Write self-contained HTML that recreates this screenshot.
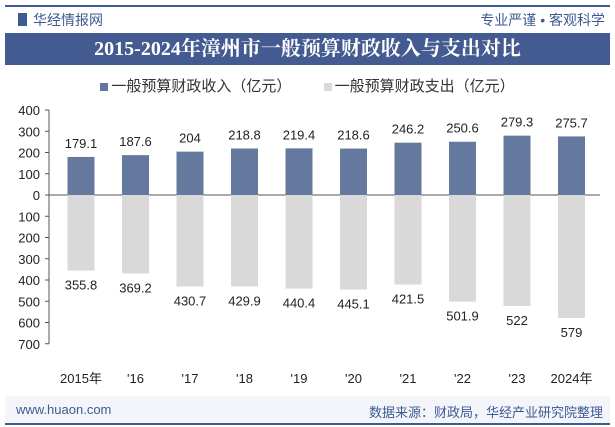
<!DOCTYPE html>
<html><head><meta charset="utf-8"><style>
body{margin:0;width:615px;height:427px;background:#fff;font-family:"Liberation Sans","Noto Sans CJK SC",sans-serif;overflow:hidden;position:relative}
.abs{position:absolute}
</style></head><body>
<div class="abs" style="left:5px;top:5px;width:605px;height:2px;background:#3d5a92"></div>
<div class="abs" style="left:18px;top:13px;width:9px;height:13px;background:#3d5a92"></div>
<div class="abs" style="left:33px;top:10px;font-size:14px;color:#3d5a92">华经情报网</div>
<div class="abs" style="right:10px;top:10px;font-size:14px;color:#3d5a92">专业严谨 • 客观科学</div>
<div class="abs" style="left:5px;top:33px;width:605px;height:32px;background:#445b91;color:#fff;font-family:'Liberation Serif','Noto Serif CJK SC',serif;font-weight:bold;font-size:20px;line-height:32px;text-align:center">2015-2024年漳州市一般预算财政收入与支出对比</div>
<div class="abs" style="left:0;top:75px;width:615px;text-align:center;font-size:15px;color:#333">
<span><span style="display:inline-block;width:8px;height:8px;background:#65789e;margin-right:3px"></span>一般预算财政收入（亿元）</span>
<span style="margin-left:28px"><span style="display:inline-block;width:8px;height:8px;background:#d9d9d9;margin-right:3px"></span>一般预算财政支出（亿元）</span>
</div>
<svg class="abs" style="left:0;top:0" width="615" height="427" id="chart"></svg>
<div class="abs" style="left:5px;top:396px;width:605px;height:27px;background:#f3f5fa"></div>
<div class="abs" style="left:16px;top:402px;font-size:13px;color:#3d5a92">www.huaon.com</div>
<div class="abs" style="right:12px;top:402px;font-size:13px;color:#3d5a92">数据来源：财政局，华经产业研究院整理</div>
<div class="abs" style="left:5px;top:423px;width:605px;height:2px;background:#3d5a92"></div>
<script>
const categories=["2015年","'16","'17","'18","'19","'20","'21","'22","'23","2024年"];
const income=[179.1,187.6,204,218.8,219.4,218.6,246.2,250.6,279.3,275.7];
const expense=[355.8,369.2,430.7,429.9,440.4,445.1,421.5,501.9,522,579];
const incomeLabels=["179.1","187.6","204","218.8","219.4","218.6","246.2","250.6","279.3","275.7"];
const expenseLabels=["355.8","369.2","430.7","429.9","440.4","445.1","421.5","501.9","522","579"];
const ticks=[400,300,200,100,0,100,200,300,400,500,600,700];
const tickVals=[400,300,200,100,0,-100,-200,-300,-400,-500,-600,-700];
const svg=document.getElementById('chart');const NS='http://www.w3.org/2000/svg';
const y0=195,k=85/400;
const y=v=>y0-v*k;
const x=i=>81+i*54.5;
function mk(t,a){const e=document.createElementNS(NS,t);for(const n in a)e.setAttribute(n,a[n]);svg.appendChild(e);return e;}
const ax=mk('line',{x1:49,x2:49,y1:y(400),y2:y(-700),stroke:'#555','stroke-width':1});


tickVals.forEach((v,i)=>{
 const tk=mk('line',{x1:45,x2:49,y1:y(v),y2:y(v),stroke:'#555'});
 
 
 const t=mk('text',{x:40,y:y(v)+5,'text-anchor':'end','font-size':13,fill:'#222'});
 t.textContent=ticks[i];
 
 
});
const zl=mk('line',{x1:49,x2:600,y1:y0,y2:y0,stroke:'#555'});


categories.forEach((c,i)=>{
 const w=27;
 const b1=mk('rect',{x:x(i)-w/2,y:y(income[i]),width:w,height:y0-y(income[i]),fill:'#65789e'});
 
 
 const b2=mk('rect',{x:x(i)-w/2,y:y0,width:w,height:y(-expense[i])-y0,fill:'#d9d9d9'});
 
 
 const t1=mk('text',{x:x(i),y:y(income[i])-9,'text-anchor':'middle','font-size':13,fill:'#222'});
 t1.textContent=incomeLabels[i];
 
 
 const t2=mk('text',{x:x(i),y:y(-expense[i])+19,'text-anchor':'middle','font-size':13,fill:'#222'});
 t2.textContent=expenseLabels[i];
 
 
 const t3=mk('text',{x:x(i),y:383,'text-anchor':'middle','font-size':13,fill:'#222'});
 t3.textContent=c;
 
 
});
</script>
</body></html>
